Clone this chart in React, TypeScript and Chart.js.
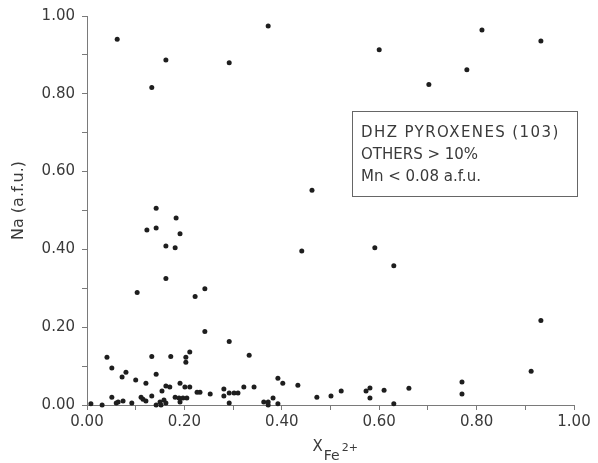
import React, { useEffect, useRef } from "react";
import { Chart, registerables } from "chart.js";

Chart.register(...registerables);

// X_Fe2+ values
const xFe: number[] = [
  0.062, 0.133, 0.162, 0.372, 0.292, 0.6, 0.811, 0.932, 0.78, 0.702,
  0.462, 0.441, 0.591, 0.63, 0.142, 0.183, 0.123, 0.142, 0.191, 0.162,
  0.181, 0.162, 0.103, 0.222, 0.242, 0.242, 0.292, 0.333, 0.932, 0.912,
  0.77, 0.77, 0.661, 0.392, 0.402, 0.433, 0.472, 0.501, 0.522, 0.573,
  0.581, 0.581, 0.61, 0.63, 0.382, 0.392, 0.363, 0.372, 0.372, 0.322,
  0.343, 0.281, 0.281, 0.292, 0.302, 0.31, 0.292, 0.253, 0.232, 0.226,
  0.201, 0.211, 0.205, 0.211, 0.203, 0.203, 0.041, 0.051, 0.072, 0.08,
  0.1, 0.121, 0.133, 0.142, 0.172, 0.191, 0.17, 0.162, 0.154, 0.008,
  0.031, 0.051, 0.06, 0.064, 0.074, 0.092, 0.111, 0.115, 0.121, 0.133,
  0.142, 0.15, 0.158, 0.162, 0.181, 0.189, 0.197, 0.191, 0.152,
];

// Na (a.f.u.) values
const naAfu: number[] = [
  0.94, 0.816, 0.887, 0.974, 0.88, 0.913, 0.964, 0.936, 0.862, 0.824,
  0.552, 0.396, 0.404, 0.358, 0.506, 0.481, 0.45, 0.455, 0.44, 0.409,
  0.404, 0.325, 0.289, 0.279, 0.299, 0.189, 0.163, 0.128, 0.217, 0.087,
  0.059, 0.028, 0.043, 0.069, 0.056, 0.051, 0.02, 0.023, 0.036, 0.036,
  0.044, 0.018, 0.038, 0.003, 0.018, 0.003, 0.008, 0.008, 0.0, 0.046,
  0.046, 0.041, 0.023, 0.031, 0.031, 0.031, 0.005, 0.028, 0.033, 0.033,
  0.046, 0.046, 0.018, 0.136, 0.123, 0.11, 0.123, 0.095, 0.072, 0.084,
  0.064, 0.056, 0.125, 0.079, 0.125, 0.056, 0.046, 0.049, 0.036, 0.003,
  0.0, 0.02, 0.005, 0.008, 0.01, 0.005, 0.02, 0.015, 0.01, 0.023,
  0.0, 0.008, 0.013, 0.005, 0.02, 0.018, 0.018, 0.008, 0.0,
];

const legendLines: string[] = [
  "DHZ PYROXENES (103)",
  "OTHERS > 10%",
  "Mn < 0.08 a.f.u.",
];

const yTitle = "Na (a.f.u.)";
const xTitleMain = "X";
const xTitleSub = "Fe";
const xTitleSup = "2+";

const AXIS = "#7a7a7a";
const TEXT = "#3a3a3a";
const FONT = "'DejaVu Sans', sans-serif";

const fmt = (v: number) => {
  const r = Math.round(v * 100);
  if (r % 20 !== 0) return "";
  return (r / 100).toFixed(2);
};

const annotations = {
  id: "annotations",
  afterDraw(chart: any) {
    const ctx = chart.ctx as CanvasRenderingContext2D;
    const a = chart.chartArea;
    ctx.save();
    // legend box
    const bx = a.left + 265;
    const by = a.top + 95;
    const bw = 225;
    const bh = 85;
    ctx.strokeStyle = "#666";
    ctx.lineWidth = 1;
    ctx.strokeRect(bx + 0.5, by + 0.5, bw, bh);
    ctx.fillStyle = TEXT;
    ctx.textAlign = "left";
    ctx.textBaseline = "alphabetic";
    ctx.font = `15px ${FONT}`;
    const spacing = ["1.4px", "0px", "0px"];
    legendLines.forEach((line, i) => {
      (ctx as any).letterSpacing = spacing[i];
      ctx.fillText(line, bx + 9, by + 26 + i * 22);
    });
    (ctx as any).letterSpacing = "0px";

    // y title
    ctx.save();
    ctx.translate(a.left - 68, (a.top + a.bottom) / 2 - 10);
    ctx.rotate(-Math.PI / 2);
    ctx.textAlign = "center";
    ctx.textBaseline = "middle";
    ctx.font = `16px ${FONT}`;
    ctx.fillText(yTitle, 0, 0);
    ctx.restore();

    // x title
    const cx = (a.left + a.right) / 2;
    const base = a.bottom + 46;
    ctx.textAlign = "left";
    ctx.font = `15px ${FONT}`;
    const x0 = cx - 18;
    ctx.fillText(xTitleMain, x0, base);
    const w1 = ctx.measureText(xTitleMain).width;
    ctx.font = `14px ${FONT}`;
    ctx.fillText(xTitleSub, x0 + w1 + 1, base + 9);
    const w2 = ctx.measureText(xTitleSub).width;
    ctx.font = `11px ${FONT}`;
    ctx.fillText(xTitleSup, x0 + w1 + w2 + 3, base);
    ctx.restore();
  },
};

export default function App() {
  const ref = useRef<HTMLCanvasElement | null>(null);
  useEffect(() => {
    document.body.style.margin = "0";
    const points = xFe.map((x, i) => ({ x, y: naAfu[i] }));
    const chart = new Chart(ref.current as HTMLCanvasElement, {
      type: "scatter",
      data: {
        datasets: [
          {
            data: points,
            pointRadius: 2.5,
            pointBackgroundColor: "#1e1e1e",
            pointBorderWidth: 0,
            clip: false as any,
          },
        ],
      },
      options: {
        animation: false,
        responsive: false,
        events: [],
        layout: {
          autoPadding: false,
          padding: { left: 0, top: 14, right: 24, bottom: 0 },
        } as any,
        plugins: {
          legend: { display: false },
          tooltip: { enabled: false },
          title: { display: false },
        },
        scales: {
          x: {
            type: "linear",
            min: 0,
            max: 1,
            afterFit: (s: any) => {
              s.height = 58;
            },
            grid: {
              drawOnChartArea: false,
              drawTicks: true,
              tickLength: 5,
              color: AXIS,
            },
            border: { display: true, color: AXIS, width: 1 },
            ticks: {
              stepSize: 0.1,
              autoSkip: false,
              maxRotation: 0,
              padding: 3,
              color: TEXT,
              font: { family: FONT, size: 15 },
              callback: (v: any) => fmt(Number(v)),
            },
          },
          y: {
            type: "linear",
            min: 0,
            max: 1,
            afterFit: (s: any) => {
              s.width = 87;
            },
            grid: {
              drawOnChartArea: false,
              drawTicks: true,
              tickLength: 5,
              color: AXIS,
            },
            border: { display: true, color: AXIS, width: 1 },
            ticks: {
              stepSize: 0.1,
              autoSkip: false,
              padding: 7,
              color: TEXT,
              font: { family: FONT, size: 15 },
              callback: (v: any) => fmt(Number(v)),
            },
          },
        },
      },
      plugins: [annotations],
    });
    return () => chart.destroy();
  }, []);
  return (
    <div style={{ position: "fixed", left: 0, top: 0, background: "#fff" }}>
      <canvas ref={ref} width={598} height={463} style={{ display: "block" }} />
    </div>
  );
}
